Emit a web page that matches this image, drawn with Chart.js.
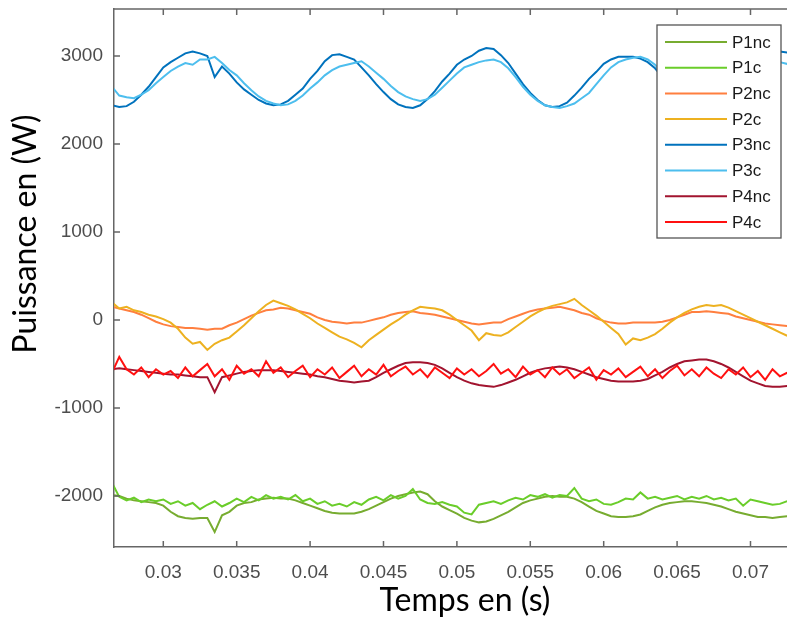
<!DOCTYPE html>
<html>
<head>
<meta charset="utf-8">
<script src="https://cdn.jsdelivr.net/npm/chart.js@4.4.1/dist/chart.umd.min.js"></script>
<style>
html, body { margin: 0; padding: 0; background: #fff; overflow: hidden; }
#wrap { width: 787px; height: 619px; }
</style>
</head>
<body>
<div id="wrap"><canvas id="myChart" width="787" height="619"></canvas></div>
<script>
// Sample times (s)
let time = [
    0.0265,0.027,0.0275,0.028,0.0285,0.029,0.0295,0.03,0.0305,0.031,
    0.0315,0.032,0.0325,0.033,0.0335,0.034,0.0345,0.035,0.0355,0.036,
    0.0365,0.037,0.0375,0.038,0.0385,0.039,0.0395,0.04,0.0405,0.041,
    0.0415,0.042,0.0425,0.043,0.0435,0.044,0.0445,0.045,0.0455,0.046,
    0.0465,0.047,0.0475,0.048,0.0485,0.049,0.0495,0.05,0.0505,0.051,
    0.0515,0.052,0.0525,0.053,0.0535,0.054,0.0545,0.055,0.0555,0.056,
    0.0565,0.057,0.0575,0.058,0.0585,0.059,0.0595,0.06,0.0605,0.061,
    0.0615,0.062,0.0625,0.063,0.0635,0.064,0.0645,0.065,0.0655,0.066,
    0.0665,0.067,0.0675,0.068,0.0685,0.069,0.0695,0.07,0.0705,0.071,
    0.0715,0.072,0.0725
];

// Power values (W)
let p1nc = [
    -1990,-2000,-2030,-2050,-2060,-2070,-2080,-2110,-2180,-2230,
    -2250,-2260,-2250,-2250,-2410,-2220,-2180,-2110,-2080,-2070,
    -2040,-2030,-2020,-2030,-2030,-2050,-2080,-2110,-2140,-2170,
    -2190,-2200,-2200,-2200,-2180,-2150,-2110,-2070,-2030,-2000,
    -1980,-1960,-1950,-1980,-2060,-2120,-2160,-2200,-2250,-2280,
    -2300,-2290,-2260,-2220,-2180,-2130,-2080,-2050,-2030,-2010,
    -2000,-2010,-2010,-2030,-2070,-2120,-2170,-2200,-2230,-2240,
    -2240,-2230,-2210,-2170,-2130,-2100,-2080,-2070,-2060,-2060,
    -2070,-2080,-2100,-2120,-2150,-2180,-2200,-2220,-2240,-2240,
    -2250,-2240,-2230
];
let p1c = [
    -1850,-2010,-2050,-2020,-2070,-2040,-2060,-2040,-2090,-2060,
    -2110,-2080,-2150,-2100,-2060,-2120,-2080,-2030,-2070,-2010,
    -2050,-1990,-2030,-2010,-2040,-1990,-2060,-2030,-2090,-2060,
    -2110,-2090,-2120,-2070,-2100,-2040,-2010,-2050,-1990,-2030,
    -2000,-1920,-2040,-2080,-2090,-2070,-2100,-2120,-2190,-2210,
    -2100,-2080,-2060,-2090,-2050,-2020,-2040,-1990,-2010,-1980,
    -2020,-1990,-2000,-1910,-2030,-2060,-2040,-2090,-2100,-2070,
    -2030,-2040,-1960,-2030,-2010,-2040,-2020,-2000,-2040,-2010,
    -2030,-2000,-2040,-2020,-2050,-2030,-2110,-2040,-2060,-2080,
    -2100,-2090,-2060
];
let p2nc = [
    150,130,110,90,60,20,-20,-50,-70,-80,
    -90,-90,-100,-110,-100,-100,-60,-30,10,50,
    80,110,120,140,130,110,90,70,30,0,
    -20,-30,-40,-30,-30,-10,10,30,60,80,
    90,100,80,70,60,40,20,0,-20,-40,
    -50,-40,-30,-30,10,40,70,100,120,130,
    140,150,130,110,80,60,20,-10,-30,-40,
    -40,-30,-30,-30,-30,-20,0,30,60,90,
    90,100,90,80,70,40,20,0,-20,-40,
    -50,-60,-70
];
let p2c = [
    200,130,150,110,90,60,40,10,-30,-100,
    -200,-270,-250,-340,-270,-230,-200,-130,-60,20,
    100,170,220,190,160,120,70,20,-40,-90,
    -140,-190,-220,-260,-310,-230,-170,-110,-50,0,
    60,110,150,140,130,110,60,0,-60,-120,
    -230,-150,-170,-180,-140,-80,-20,40,90,130,
    160,180,200,240,170,110,50,-20,-90,-160,
    -280,-210,-230,-200,-160,-100,-30,30,80,120,
    150,170,160,170,140,100,60,20,-20,-60,
    -100,-140,-180
];
let p3nc = [
    2440,2420,2430,2480,2560,2650,2760,2870,2930,2980,
    3030,3050,3030,3000,2760,2880,2800,2700,2620,2560,
    2500,2460,2440,2450,2490,2560,2630,2740,2830,2940,
    3010,3020,2990,2960,2870,2780,2680,2590,2510,2450,
    2420,2410,2440,2510,2600,2710,2800,2900,2960,3000,
    3060,3090,3080,3010,2920,2800,2680,2580,2500,2440,
    2420,2430,2470,2550,2640,2740,2820,2910,2960,2990,
    2990,2990,2970,2930,2860,2760,2650,2560,2490,2440,
    2430,2440,2490,2580,2680,2780,2870,2940,2990,3020,
    3040,3050,3040
];
let p3c = [
    2650,2550,2530,2520,2560,2610,2690,2760,2830,2880,
    2920,2900,2960,2960,2990,2920,2840,2780,2690,2610,
    2540,2490,2460,2440,2450,2490,2550,2630,2700,2780,
    2840,2880,2900,2920,2940,2880,2810,2740,2660,2590,
    2540,2510,2490,2510,2560,2640,2720,2800,2870,2900,
    2930,2950,2960,2930,2860,2760,2650,2560,2490,2440,
    2420,2410,2430,2460,2520,2580,2680,2780,2870,2930,
    2960,2980,2990,2960,2900,2810,2710,2620,2540,2480,
    2450,2440,2460,2510,2580,2660,2740,2810,2860,2900,
    2920,2930,2910
];
let p4nc = [
    -560,-550,-560,-570,-580,-590,-600,-610,-620,-620,
    -630,-640,-650,-650,-820,-650,-630,-610,-590,-580,
    -570,-570,-570,-580,-590,-600,-610,-620,-640,-650,
    -670,-690,-700,-710,-700,-690,-650,-600,-560,-520,
    -490,-480,-480,-490,-510,-550,-600,-650,-690,-720,
    -740,-750,-760,-740,-710,-680,-640,-600,-570,-550,
    -540,-530,-540,-560,-590,-620,-650,-670,-690,-700,
    -700,-700,-690,-670,-630,-590,-540,-500,-470,-460,
    -450,-450,-470,-500,-540,-590,-640,-690,-720,-750,
    -760,-760,-750
];
let p4c = [
    -600,-420,-560,-620,-540,-650,-560,-620,-580,-660,
    -540,-640,-570,-500,-640,-560,-680,-520,-610,-560,
    -640,-470,-600,-540,-650,-580,-520,-650,-560,-620,
    -540,-660,-590,-520,-640,-560,-620,-510,-640,-580,
    -530,-620,-560,-650,-540,-600,-660,-550,-620,-560,
    -640,-580,-500,-610,-560,-650,-530,-620,-570,-650,
    -540,-620,-560,-660,-600,-540,-680,-570,-620,-550,
    -650,-590,-530,-640,-560,-660,-580,-520,-630,-560,
    -640,-540,-610,-660,-560,-620,-540,-650,-580,-680,
    -560,-640,-600
];

let seriesNames = ['P1nc', 'P1c', 'P2nc', 'P2c', 'P3nc', 'P3c', 'P4nc', 'P4c'];
let seriesValues = [p1nc, p1c, p2nc, p2c, p3nc, p3c, p4nc, p4c];
let seriesColors = ['#77ac30', '#6acd2a', '#ff7f3f', '#edb120', '#0072bd', '#4dbeee', '#a2142f', '#ff1010'];

// Tick labels
let xTicks = [0.03, 0.035, 0.04, 0.045, 0.05, 0.055, 0.06, 0.065, 0.07];
let yTicks = [-2000, -1000, 0, 1000, 2000, 3000];

let axisColor = '#666666';
let tickFont = { family: "'Liberation Sans', Arial, sans-serif", size: 19 };

// Frame: top line and inward tick marks (MATLAB style)
let framePlugin = {
    id: 'frame',
    afterDraw(chart) {
        let ctx = chart.ctx;
        let a = chart.chartArea;
        let xs = chart.scales.x, ys = chart.scales.y;
        ctx.save();
        ctx.strokeStyle = axisColor;
        ctx.lineWidth = 1.5;
        ctx.beginPath();
        ctx.moveTo(a.left, a.top);
        ctx.lineTo(a.right, a.top);
        xTicks.forEach(v => {
            let px = xs.getPixelForValue(v);
            ctx.moveTo(px, a.bottom);
            ctx.lineTo(px, a.bottom - 6);
            ctx.moveTo(px, a.top);
            ctx.lineTo(px, a.top + 6);
        });
        yTicks.forEach(v => {
            let py = ys.getPixelForValue(v);
            ctx.moveTo(a.left, py);
            ctx.lineTo(a.left + 6, py);
        });
        ctx.stroke();
        ctx.restore();
    }
};

// Boxed legend inside the plot, top right
let legendPlugin = {
    id: 'boxLegend',
    afterDraw(chart) {
        let ctx = chart.ctx;
        let bx = 657, by = 25, bw = 124, bh = 213;
        ctx.save();
        ctx.fillStyle = '#fff';
        ctx.fillRect(bx, by, bw, bh);
        ctx.strokeStyle = '#555';
        ctx.lineWidth = 1.3;
        ctx.strokeRect(bx, by, bw, bh);
        ctx.font = "17px 'Liberation Sans', Arial, sans-serif";
        ctx.textBaseline = 'middle';
        chart.data.datasets.forEach((ds, i) => {
            let y = 42 + i * 25.7;
            ctx.strokeStyle = ds.borderColor;
            ctx.lineWidth = 2;
            ctx.beginPath();
            ctx.moveTo(665, y);
            ctx.lineTo(727, y);
            ctx.stroke();
            ctx.fillStyle = '#1a1a1a';
            ctx.fillText(ds.label, 732, y + 1);
        });
        ctx.restore();
    }
};

// Axis titles
let titlePlugin = {
    id: 'axisTitles',
    afterDraw(chart) {
        let ctx = chart.ctx;
        ctx.save();
        ctx.fillStyle = '#000';
        ctx.font = "32px Lato, 'Open Sans', sans-serif";
        ctx.textAlign = 'center';
        ctx.textBaseline = 'middle';
        ctx.fillText('Temps en (s)', 465, 601);
        ctx.translate(26, 234);
        ctx.rotate(-Math.PI / 2);
        ctx.fillText('Puissance en (W)', 0, 0);
        ctx.restore();
    }
};

let datasets = seriesNames.map((name, i) => ({
    label: name,
    data: time.map((t, k) => ({ x: t, y: seriesValues[i][k] })),
    borderColor: seriesColors[i],
    backgroundColor: seriesColors[i],
    borderWidth: 2,
    pointRadius: 0,
    fill: false,
    tension: 0,
    order: seriesNames.length - i
}));

let canvas = document.getElementById('myChart').getContext('2d');
let myChart = new Chart(canvas, {
    type: 'line',
    data: { datasets: datasets },
    plugins: [framePlugin, legendPlugin, titlePlugin],
    options: {
        responsive: false,
        devicePixelRatio: 1,
        animation: false,
        layout: { padding: { top: 9, right: 0, left: 0, bottom: 0 } },
        plugins: {
            legend: { display: false },
            tooltip: { enabled: false }
        },
        scales: {
            x: {
                type: 'linear',
                min: 0.026642,
                max: 0.072487,
                afterBuildTicks: s => { s.ticks = xTicks.map(v => ({ value: v })); },
                afterFit: s => { s.height = 72; s.paddingLeft = 0; s.paddingRight = 0; },
                ticks: {
                    callback: v => String(v),
                    font: tickFont,
                    color: '#4d4d4d',
                    padding: 14,
                    maxRotation: 0
                },
                grid: { display: false, drawTicks: false },
                border: { display: true, color: axisColor, width: 1.5 }
            },
            y: {
                type: 'linear',
                min: -2580,
                max: 3534,
                afterBuildTicks: s => { s.ticks = yTicks.map(v => ({ value: v })); },
                afterFit: s => { s.width = 114; s.paddingTop = 0; s.paddingBottom = 0; },
                ticks: {
                    callback: v => String(v),
                    font: tickFont,
                    color: '#4d4d4d',
                    padding: 11
                },
                grid: { display: false, drawTicks: false },
                border: { display: true, color: axisColor, width: 1.5 }
            }
        }
    }
});
</script>
</body>
</html>
